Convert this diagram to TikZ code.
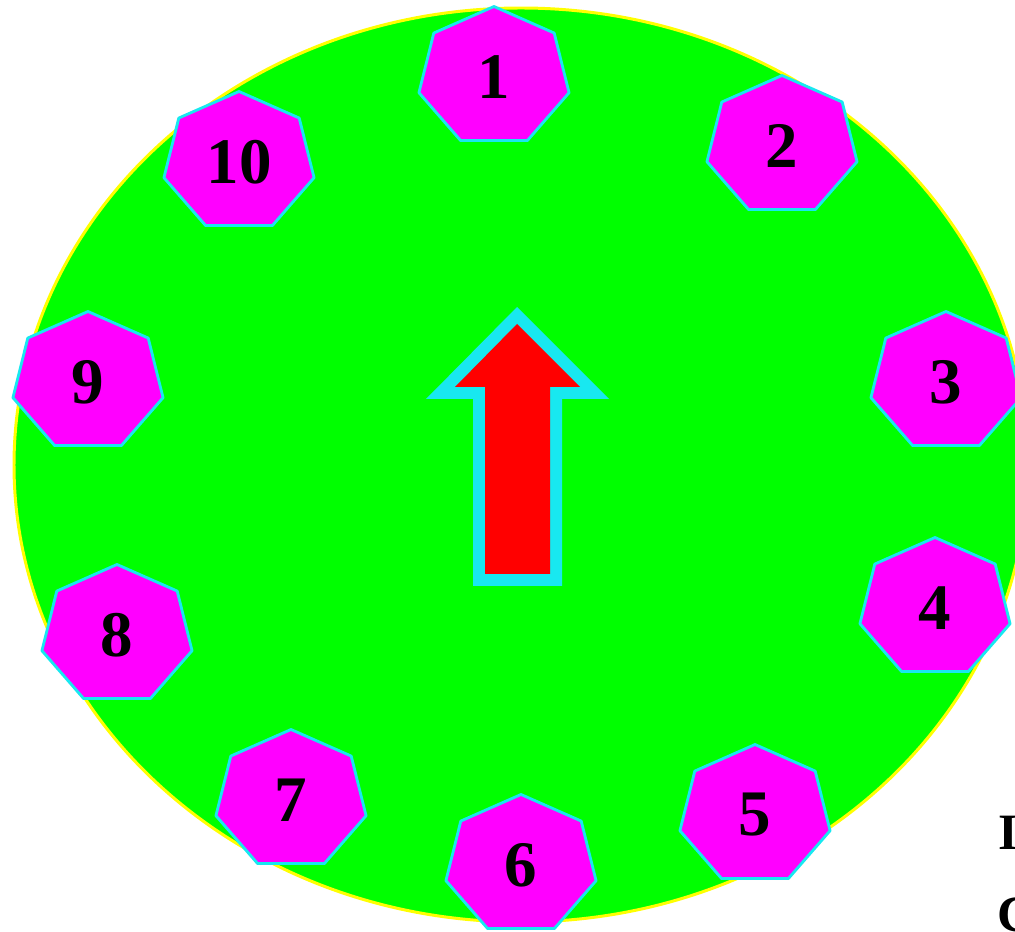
\documentclass[tikz,border=0pt]{standalone}
\usepackage{fontspec}
\setmainfont{Liberation Serif}
\definecolor{dial}{HTML}{00FF00}
\definecolor{rim}{HTML}{FFFF00}
\definecolor{badge}{HTML}{FF00FF}
\definecolor{edge}{HTML}{18E8F0}
\definecolor{pointer}{HTML}{FF0000}

\begin{document}
\begin{tikzpicture}[x=0.02cm, y=-0.02cm,
  disc/.style={fill=dial, draw=rim, line width=1.7pt},
  hepta/.style={fill=badge, draw=edge, line width=1.6pt, line join=round},
  num/.style={font=\fontsize{37}{40}\selectfont\bfseries, text=black, inner sep=0pt},
  side/.style={font=\fontsize{29}{32}\selectfont\bfseries, text=black, anchor=base west, inner sep=0pt},
  hept/.pic={\draw[hepta] (-90:77 and 70.5)
      \foreach \k in {1,...,6} {-- ({-90+\k*360/7}:77 and 70.5)} -- cycle;}]
  \useasboundingbox (0,0) rectangle (1015,932);
  \draw[disc] (521,465) ellipse [x radius=507, y radius=457];
  \foreach \n/\x/\y in {1/494/77, 2/782/146, 3/946/382, 4/935/608, 5/755/815,
                        6/521/865, 7/291/800, 8/117/635, 9/88/382, 10/239/162} {
    \pic at (\x,\y) {hept};
    \node[num] (n\n) at (\x,\y) {\n};
  }
  % pointer
  \fill[edge] (517,307) -- (609,399) -- (562,399) -- (562,586)
    -- (473,586) -- (473,399) -- (426,399) -- cycle;
  \fill[pointer] (517,324) -- (580,387) -- (550,387) -- (550,574)
    -- (485,574) -- (485,387) -- (455,387) -- cycle;
  \node[side] (t1) at (998,849) {I};
  \node[side] (t2) at (997,931) {C};
\end{tikzpicture}
\end{document}
